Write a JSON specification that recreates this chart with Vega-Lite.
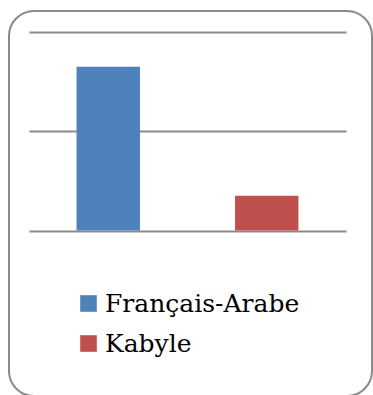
{
  "$schema": "https://vega.github.io/schema/vega-lite/v6.json",
  "width": 363,
  "height": 385,
  "autosize": {"type": "none"},
  "padding": {"left": 9, "top": 11, "right": 1, "bottom": 0},
  "data": {
    "values": [
      {"langue": "Français-Arabe", "pourcentage": 82.5},
      {"langue": "Kabyle", "pourcentage": 17.5}
    ]
  },
  "mark": {"type": "bar"},
  "encoding": {
    "x": {
      "field": "langue",
      "type": "nominal",
      "sort": ["Français-Arabe", "Kabyle"],
      "scale": {"range": [20, 337], "paddingInner": 0.6, "paddingOuter": 0.3},
      "axis": null
    },
    "y": {
      "field": "pourcentage",
      "type": "quantitative",
      "scale": {"domain": [0, 100], "range": [219.5, 21], "nice": false},
      "axis": {
        "values": [0, 50, 100],
        "labels": false,
        "ticks": false,
        "domain": false,
        "title": null,
        "grid": true,
        "gridColor": "#8a8a8a",
        "gridWidth": 2,
        "gridOpacity": 1
      }
    },
    "color": {
      "field": "langue",
      "type": "nominal",
      "scale": {"domain": ["Français-Arabe", "Kabyle"], "range": ["#4F81BD", "#C0504D"]},
      "legend": {
        "orient": "none",
        "legendX": 67,
        "legendY": 280,
        "title": null,
        "symbolType": "square",
        "symbolSize": 276,
        "symbolStrokeWidth": 0,
        "labelFont": "DejaVu Serif",
        "labelFontSize": 25,
        "labelColor": "#000000",
        "labelOffset": 4,
        "labelLimit": 400,
        "rowPadding": 14
      }
    }
  },
  "config": {
    "view": {"stroke": "#8a8a8a", "strokeWidth": 2, "cornerRadius": 25}
  }
}
